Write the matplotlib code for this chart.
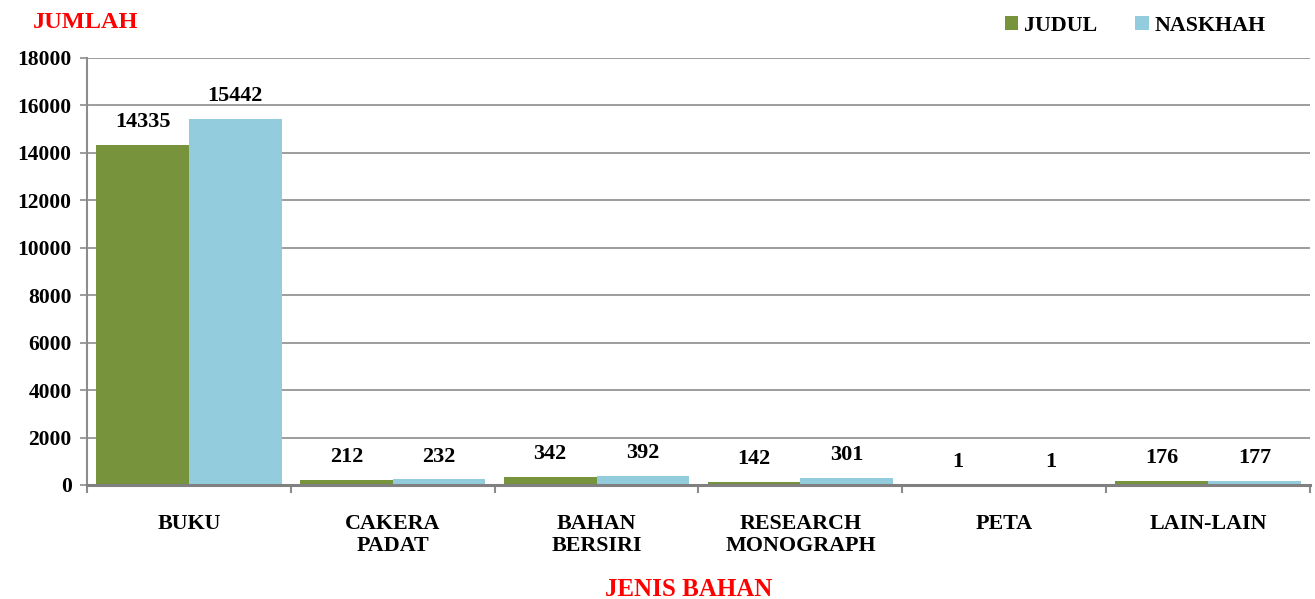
import numpy as np
import matplotlib.pyplot as plt
from matplotlib.ticker import FixedLocator

categories = ["BUKU", "CAKERA\nPADAT", "BAHAN\nBERSIRI", "RESEARCH\nMONOGRAPH", "PETA", "LAIN-LAIN"]
judul = [14335, 212, 342, 142, 1, 176]
naskhah = [15442, 232, 392, 301, 1, 177]
yticks = [0, 2000, 4000, 6000, 8000, 10000, 12000, 14000, 16000, 18000]

green = "#77933C"
blue = "#93CDDD"
grid_c = "#8C8C8C"

plt.rcParams['font.family'] = ['Liberation Serif', 'DejaVu Serif']
plt.rcParams['font.weight'] = 'bold'

fig = plt.figure(figsize=(13.15, 5.99), dpi=100)
ax = fig.add_axes([87 / 1315, 1 - 485 / 599, (1310 - 87) / 1315, (485 - 58) / 599])

x = np.arange(len(categories))
w = 0.455
b1 = ax.bar(x - w / 2, judul, w, color=green, label="JUDUL", zorder=3)
b2 = ax.bar(x + w / 2, naskhah, w, color=blue, label="NASKHAH", zorder=3)

for bars in (b1, b2):
    for r in bars:
        ax.annotate(f"{int(r.get_height())}", (r.get_x() + r.get_width() / 2, r.get_height()),
                    xytext=(0, 9), textcoords="offset points", ha="center", va="bottom",
                    fontsize=16, fontweight="bold")

ax.set_xlim(-0.5, len(categories) - 0.5)
ax.set_ylim(0, 18000)
ax.set_yticks(yticks)
ax.set_yticklabels([str(v) for v in yticks], fontsize=15.5, fontweight="bold")
ax.yaxis.grid(True, color=grid_c, linewidth=1.2, zorder=0)
ax.set_xticks(x)
ax.set_xticklabels(categories, fontsize=15.8, fontweight="bold", linespacing=1.12)
ax.tick_params(axis="x", length=0, pad=21)
ax.xaxis.set_minor_locator(FixedLocator(np.arange(-0.5, len(categories), 1)))
ax.tick_params(axis="x", which="minor", length=6, color=grid_c, width=1.5)
ax.tick_params(axis="y", length=5, color=grid_c, width=1.2, pad=6)

for s in ["top", "right"]:
    ax.spines[s].set_visible(False)
ax.spines["left"].set_color(grid_c)
ax.spines["left"].set_linewidth(1.5)
ax.spines["bottom"].set_color("#808080")
ax.spines["bottom"].set_linewidth(2.2)
ax.spines["bottom"].set_zorder(4)

fig.text(33 / 1315, 1 - 22 / 599, "JUMLAH", color="red", fontsize=17.5, fontweight="bold", va="center", ha="left")
fig.text(689 / 1315, 1 - 590 / 599, "JENIS BAHAN", color="red", fontsize=18, fontweight="bold", va="center", ha="center")

leg = fig.legend(loc="center right", bbox_to_anchor=(1285 / 1315, 1 - 26 / 599), ncol=2, frameon=False,
                 fontsize=15.8, handlelength=0.6, handleheight=0.6, handletextpad=0.25, columnspacing=1.75)

fig.savefig("out.png", dpi=100)
